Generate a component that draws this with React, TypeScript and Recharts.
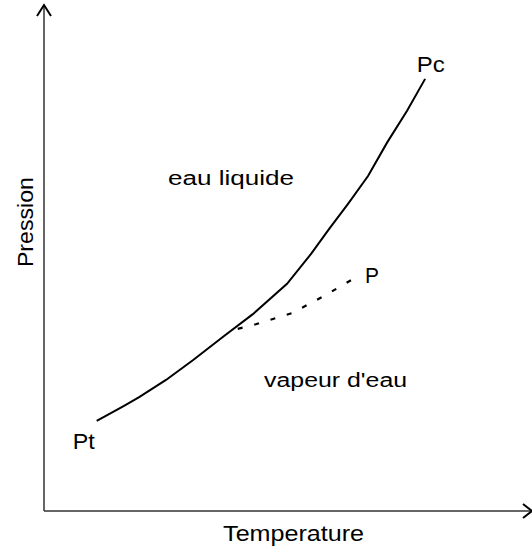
import { LineChart, Line, XAxis, YAxis, ReferenceDot, ReferenceLine } from 'recharts'

// Courbe de vaporisation (unités arbitraires, 0..100)
const curveT = [10.8, 16.4, 19.5, 25.0, 30.5, 36.9, 42.8, 49.8, 54.8, 58.4, 62.3, 66.4, 70.3, 74.4, 78.1]
const curveP = [17.8, 20.8, 22.5, 25.9, 29.8, 34.6, 38.9, 44.9, 50.9, 55.7, 60.7, 66.2, 72.8, 79.1, 85.4]

// Branche pointillée vers P
const dotT = [39.7, 43.4, 50.8, 57.4, 63.6]
const dotP = [36.0, 36.9, 39.1, 42.5, 46.0]

// Étiquettes : texte, position (T, P), taille, longueur
const labelText = ['Pc', 'Pt', 'P', 'eau liquide', "vapeur d'eau"]
const labelT = [76.4, 5.9, 65.8, 25.4, 45.1]
const labelP = [86.8, 12.3, 45.1, 64.4, 24.5]
const labelSize = [22, 22, 22, 20, 20]
const labelLen = [28, 22, 14, 126, 143]

// Titres des axes
const xTitle = 'Temperature'
const yTitle = 'Pression'

const FONT = '"Liberation Sans", Arial, sans-serif'

const curve = curveT.map((t, i) => ({ t, p: curveP[i] }))
const branch = dotT.map((t, i) => ({ t, p: dotP[i] }))

function ArrowUp({ cx, cy }: any) {
  return <path d={`M${cx - 7},${cy + 11} L${cx},${cy} L${cx + 7},${cy + 11}`} fill="none" stroke="#000" strokeWidth={2} />
}

function ArrowRight({ cx, cy }: any) {
  return <path d={`M${cx - 9},${cy - 7} L${cx},${cy} L${cx - 9},${cy + 7}`} fill="none" stroke="#000" strokeWidth={2} />
}

function makeLabel(text: string, size: number, len: number) {
  return ({ cx, cy }: any) => (
    <text x={cx} y={cy} fontSize={size} fontFamily={FONT} fill="#000" textLength={len} lengthAdjust="spacingAndGlyphs">
      {text}
    </text>
  )
}

function YTitle({ cx, cy }: any) {
  return (
    <text x={cx} y={cy} fontSize={22} fontFamily={FONT} fill="#000" textAnchor="middle"
      transform={`rotate(-90 ${cx} ${cy})`} textLength={90} lengthAdjust="spacingAndGlyphs">
      {yTitle}
    </text>
  )
}

export default function App() {
  return (
    <div style={{ position: 'absolute', left: 0, top: 0, background: '#fff' }}>
      <LineChart width={532} height={552} margin={{ top: 5, right: 0, bottom: 41, left: 44 }}>
        <XAxis type="number" dataKey="t" domain={[0, 100]} height={0} hide allowDataOverflow />
        <YAxis type="number" dataKey="p" domain={[0, 100]} width={0} hide allowDataOverflow />
        <ReferenceLine x={0} stroke="#333" strokeWidth={1.5} />
        <ReferenceLine y={0} stroke="#333" strokeWidth={1.5} />
        <Line data={curve} dataKey="p" type="linear" stroke="#000" strokeWidth={2} dot={false} isAnimationActive={false} />
        <Line data={branch} dataKey="p" type="linear" stroke="#000" strokeWidth={2.2} strokeDasharray="5 12" dot={false} isAnimationActive={false} />
        <ReferenceDot x={0} y={100} r={0} ifOverflow="visible" shape={<ArrowUp />} />
        <ReferenceDot x={100} y={0} r={0} ifOverflow="visible" shape={<ArrowRight />} />
        {labelText.map((txt, i) => (
          <ReferenceDot key={txt} x={labelT[i]} y={labelP[i]} r={0} ifOverflow="visible"
            shape={makeLabel(txt, labelSize[i], labelLen[i])} />
        ))}
        <ReferenceDot x={36.7} y={-5.9} r={0} ifOverflow="visible" shape={makeLabel(xTitle, 22, 141)} />
        <ReferenceDot x={-2.25} y={57.1} r={0} ifOverflow="visible" shape={<YTitle />} />
      </LineChart>
    </div>
  )
}
